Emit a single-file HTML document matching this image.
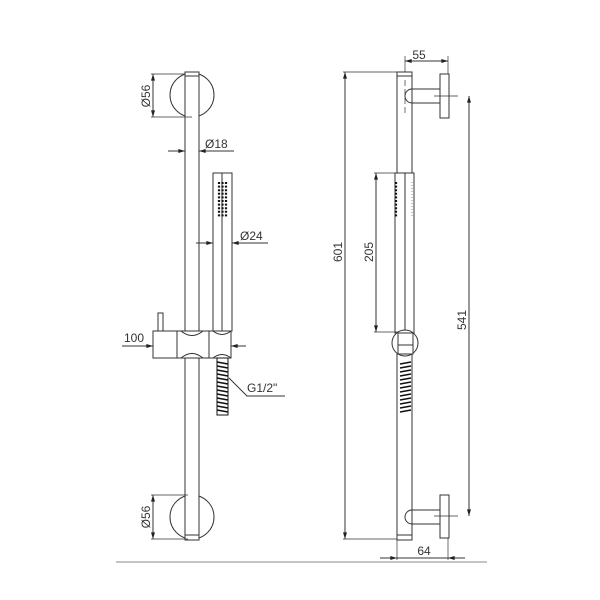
<!DOCTYPE html>
<html><head><style>body{margin:0;background:#fff}svg{display:block}</style></head><body>
<svg width="600" height="600" viewBox="0 0 600 600" xmlns="http://www.w3.org/2000/svg" font-family="Liberation Sans, sans-serif">
<defs>
<marker id="a" viewBox="0 0 10 6" refX="10" refY="3" markerWidth="8" markerHeight="4" orient="auto-start-reverse"><path d="M0,0L10,3L0,6z" fill="#222"/></marker>
</defs>
<g fill="none" stroke="#333" stroke-width="1">
<!-- LEFT VIEW -->
<circle cx="192" cy="95" r="22" fill="#fff"/>
<circle cx="192" cy="517" r="22" fill="#fff"/>
<rect x="185" y="72" width="14" height="468" fill="#fff"/>
<line x1="185" y1="76" x2="199" y2="76"/>
<line x1="185" y1="535" x2="199" y2="535"/>
<!-- dims Ø56 top -->
<line x1="153" y1="74" x2="153" y2="117" marker-start="url(#a)" marker-end="url(#a)"/>
<line x1="151" y1="74" x2="185" y2="74" stroke-width="0.7"/>
<line x1="151" y1="117" x2="192" y2="117" stroke-width="0.7"/>
<line x1="153" y1="495" x2="153" y2="539" marker-start="url(#a)" marker-end="url(#a)"/>
<line x1="151" y1="495" x2="188" y2="495" stroke-width="0.7"/>
<line x1="151" y1="539" x2="188" y2="539" stroke-width="0.7"/>
<!-- Ø18 -->
<line x1="168" y1="151" x2="185" y2="151" marker-end="url(#a)"/>
<line x1="199" y1="151" x2="234" y2="151"/>
<line x1="199" y1="151" x2="212" y2="151" marker-start="url(#a)"/>
<!-- handshower left -->
<rect x="213" y="173" width="19" height="158" fill="#fff"/>
<line x1="222" y1="173" x2="222" y2="331"/>
<!-- Ø24 -->
<line x1="196" y1="243" x2="213" y2="243" marker-end="url(#a)"/>
<line x1="232" y1="243" x2="268" y2="243"/>
<line x1="232" y1="243" x2="245" y2="243" marker-start="url(#a)"/>
<!-- mount block -->
<rect x="158" y="313" width="5" height="18" fill="#fff"/>
<rect x="153" y="331" width="78" height="27" fill="#fff"/>
<line x1="177" y1="331" x2="177" y2="358"/>
<line x1="209" y1="331" x2="209" y2="358"/>
<path d="M181,331 Q192,340 203,331"/>
<path d="M181,358 Q192,349 203,358"/>
<path d="M213,331 Q222,338 231,331"/>
<path d="M213,358 Q222,351 231,358"/>
<line x1="122" y1="346" x2="153" y2="346" marker-end="url(#a)"/>
<line x1="231" y1="346" x2="246" y2="346"/>
<line x1="231" y1="346" x2="238" y2="346" marker-start="url(#a)"/>
<!-- leader -->
<polyline points="229,378 247,396 285,396" />
<!-- RIGHT VIEW -->
<rect x="397" y="72" width="15" height="468" fill="#fff"/>
<line x1="397" y1="76" x2="412" y2="76"/>
<line x1="397" y1="535" x2="412" y2="535"/>
<path d="M412,89 L440,89 M412,103 L440,103 M412,89 A7,7 0 0 0 412,103" />
<path d="M412,510 L440,510 M412,524 L440,524 M412,510 A7,7 0 0 0 412,524" />
<rect x="440" y="74" width="9" height="44" fill="#fff"/>
<rect x="440" y="495" width="9" height="43" fill="#fff"/>
<line x1="405" y1="80" x2="405" y2="115" stroke-dasharray="6,3" stroke-width="0.7"/>
<line x1="434" y1="96" x2="458" y2="96" stroke-width="0.7"/>
<line x1="434" y1="516" x2="458" y2="516" stroke-width="0.7"/>
<!-- handshower right -->
<rect x="395" y="173" width="19" height="160" fill="#fff"/>
<line x1="405" y1="173" x2="405" y2="333"/>
<circle cx="405" cy="343" r="13" fill="#fff"/>
<rect x="398" y="333" width="15" height="21" fill="#fff"/>
<line x1="398" y1="345" x2="413" y2="345"/>
<!-- dims -->
<line x1="405" y1="61" x2="448" y2="61" marker-start="url(#a)" marker-end="url(#a)"/>
<line x1="405" y1="56" x2="405" y2="72" stroke-width="0.7"/>
<line x1="448" y1="56" x2="448" y2="74" stroke-width="0.7"/>
<line x1="345" y1="72" x2="345" y2="539" marker-start="url(#a)" marker-end="url(#a)"/>
<line x1="343" y1="72" x2="397" y2="72" stroke-width="0.7"/>
<line x1="343" y1="539" x2="397" y2="539" stroke-width="0.7"/>
<line x1="376" y1="173" x2="376" y2="332" marker-start="url(#a)" marker-end="url(#a)"/>
<line x1="374" y1="173" x2="395" y2="173" stroke-width="0.7"/>
<line x1="374" y1="332" x2="398" y2="332" stroke-width="0.7"/>
<line x1="469" y1="96" x2="469" y2="516" marker-start="url(#a)" marker-end="url(#a)"/>
<line x1="380" y1="558" x2="397" y2="558" marker-end="url(#a)"/>
<line x1="397" y1="558" x2="448" y2="558"/>
<line x1="448" y1="558" x2="465" y2="558" marker-start="url(#a)"/>
<line x1="397" y1="540" x2="397" y2="560" stroke-width="0.7"/>
<line x1="448" y1="538" x2="448" y2="560" stroke-width="0.7"/>
<line x1="116" y1="562" x2="487" y2="562" stroke="#888"/>
</g>
<!-- dots -->
<g fill="#111">
<rect x="218" y="182" width="10" height="36" fill="none"/>
</g>
<g stroke="#111" stroke-width="2.2" stroke-dasharray="2,1.6">
<line x1="219" y1="182" x2="219" y2="218"/><line x1="222.5" y1="182" x2="222.5" y2="218"/><line x1="226" y1="182" x2="226" y2="218"/>
<line x1="396" y1="182" x2="396" y2="218"/>
</g>
<line x1="412" y1="182" x2="412" y2="218" stroke="#888" stroke-width="1" stroke-dasharray="1,2"/>
<!-- hoses -->
<g stroke="#111" stroke-width="1.6">
<rect x="217" y="358" width="11" height="57" fill="none" stroke-width="1"/>
<path d="M217,362 L228,364 M217,366 L228,368 M217,370 L228,372 M217,374 L228,376 M217,378 L228,380 M217,382 L228,384 M217,386 L228,388 M217,390 L228,392 M217,394 L228,396 M217,398 L228,400 M217,402 L228,404 M217,406 L228,408 M217,410 L228,412"/>
<path d="M400,364 L411,362 M400,368 L411,366 M400,372 L411,370 M400,376 L411,374 M400,380 L411,378 M400,384 L411,382 M400,388 L411,386 M400,392 L411,390 M400,396 L411,394 M400,400 L411,398 M400,404 L411,402 M400,408 L411,406 M400,412 L411,410"/>
</g>
<!-- text -->
<g fill="#333" font-size="12">
<text transform="translate(150,96) rotate(-90)" text-anchor="middle">Ø56</text>
<text transform="translate(150,517) rotate(-90)" text-anchor="middle">Ø56</text>
<text x="205" y="148">Ø18</text>
<text x="240" y="240">Ø24</text>
<text x="124" y="342">100</text>
<text x="247" y="392">G1/2"</text>
<text x="419" y="59" text-anchor="middle">55</text>
<text transform="translate(342,252) rotate(-90)" text-anchor="middle">601</text>
<text transform="translate(373,252) rotate(-90)" text-anchor="middle">205</text>
<text transform="translate(466,320) rotate(-90)" text-anchor="middle">541</text>
<text x="424" y="555" text-anchor="middle">64</text>
</g>
</svg>
</body></html>
